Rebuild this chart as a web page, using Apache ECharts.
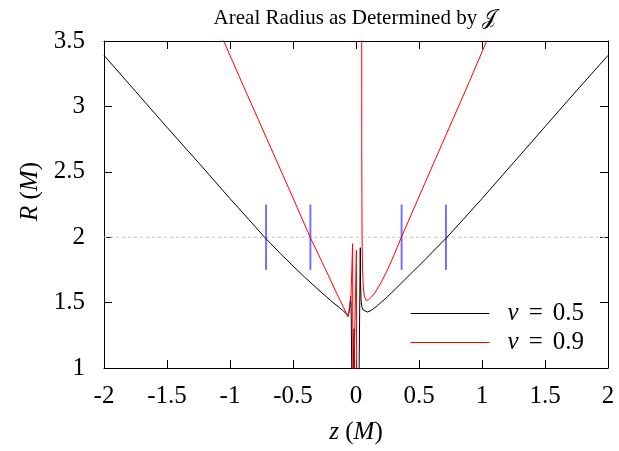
<!DOCTYPE html>
<html><head><meta charset="utf-8">
<script src="https://cdn.jsdelivr.net/npm/echarts@6/dist/echarts.min.js"></script>
<style>html,body{margin:0;padding:0;background:#fff}#c{width:619px;height:451px}</style>
</head><body><div id="c"></div>
<script>
// ---- data ----
const xTicks = [-2, -1.5, -1, -0.5, 0, 0.5, 1, 1.5, 2];
const yTicks = [1, 1.5, 2, 2.5, 3, 3.5];
const seriesNames = ['v = 0.5', 'v = 0.9'];

const blackZ = [-2.0, -1.75, -1.5, -1.25, -1.0, -0.85, -0.726, -0.6, -0.5, -0.41, -0.3, -0.2, -0.13, -0.1, -0.08, -0.071, -0.062, -0.054, -0.047, -0.043, -0.039, -0.03, -0.02, -0.015, -0.01, -0.005, 0.005, 0.021, 0.034, 0.036, 0.04, 0.046, 0.055, 0.07, 0.092, 0.12, 0.171, 0.25, 0.356, 0.45, 0.55, 0.63, 0.713, 0.85, 1.0, 1.25, 1.5, 1.75, 2.0];
const blackR = [3.39, 3.115, 2.84, 2.57, 2.295, 2.135, 2.0, 1.875, 1.78, 1.697, 1.6, 1.515, 1.46, 1.437, 1.415, 1.402, 1.405, 1.43, 1.48, 1.55, 1.5, 0.6, 0.6, 1.3, 0.6, 0.6, 0.6, 0.6, 1.92, 1.65, 1.52, 1.47, 1.445, 1.432, 1.428, 1.44, 1.477, 1.545, 1.645, 1.735, 1.83, 1.91, 1.99, 2.135, 2.295, 2.57, 2.845, 3.12, 3.39];

const redZ = [-1.2, -1.05, -0.9, -0.7, -0.5, -0.364, -0.25, -0.15, -0.1, -0.075, -0.062, -0.053, -0.047, -0.04, -0.033, -0.027, -0.024, -0.01, 0.003, 0.006, 0.02, 0.03, 0.0445, 0.046, 0.048, 0.052, 0.058, 0.066, 0.082, 0.1, 0.12, 0.15, 0.2, 0.25, 0.3, 0.356, 0.5, 0.7, 0.9, 1.037, 1.2];
const redR = [3.83, 3.5, 3.17, 2.735, 2.30, 2.0, 1.77, 1.565, 1.465, 1.415, 1.39, 1.377, 1.40, 1.55, 1.75, 1.95, 0.6, 0.6, 1.90, 0.6, 0.6, null, 4.5, 2.6, 2.0, 1.75, 1.62, 1.55, 1.516, 1.522, 1.54, 1.575, 1.655, 1.75, 1.86, 1.99, 2.31, 2.75, 3.19, 3.5, 3.86];

const guideZ = [-0.714, -0.362, 0.362, 0.714];
const guideLow = 1.75, guideHigh = 2.25;
const refLevel = 2;

// ---- chart ----
const FONT = 'Liberation Serif';
const pairs = (zs, rs) => zs.map((z, i) => [z, rs[i]]);
const chart = echarts.init(document.getElementById('c'), null, {renderer: 'canvas'});
const colors = ['#000000', '#ff0000'];

const series = [
  {
    name: 'ref', type: 'line', data: [[xTicks[0], refLevel], [xTicks[xTicks.length - 1], refLevel]],
    symbol: 'none', silent: true, z: 1,
    lineStyle: {color: '#c4c4c4', width: 1, type: [3, 3]}
  }
];
guideZ.forEach((z, i) => series.push({
  name: 'guide' + i, type: 'line', data: [[z, guideLow], [z, guideHigh]],
  symbol: 'none', silent: true, z: 2,
  lineStyle: {color: 'rgba(0,0,255,0.55)', width: 2}
}));
[[blackZ, blackR], [redZ, redR]].forEach(([zs, rs], k) => series.push({
  name: seriesNames[k], type: 'line', data: pairs(zs, rs), symbol: 'none',
  clip: true, connectNulls: false, z: 3 + k,
  itemStyle: {color: colors[k]},
  lineStyle: {color: colors[k], width: 1}
}));

const axisCommon = {
  type: 'value', splitLine: {show: false},
  axisLine: {show: true, onZero: false, lineStyle: {color: '#000', width: 1}},
  axisTick: {show: true, inside: true, length: 8, lineStyle: {color: '#000', width: 1}}
};
const tickStyle = {color: '#000', fontFamily: FONT, fontSize: 25};
const rich = {i: {fontStyle: 'italic', fontFamily: FONT, fontSize: 25, color: '#000'},
              n: {fontFamily: FONT, fontSize: 25, color: '#000'},
              e: {fontFamily: FONT, fontSize: 25, color: '#000', padding: [0, 10, 0, 10]}};

chart.setOption({
  animation: false,
  backgroundColor: '#fff',
  title: {
    text: 'Areal Radius as Determined by {j|𝒥}', left: 350, top: 3, textAlign: 'center',
    textStyle: {color: '#000', fontFamily: FONT, fontSize: 21, fontWeight: 'normal',
      rich: {j: {fontFamily: 'DejaVu Sans', fontSize: 21, color: '#000'}}}
  },
  grid: {left: 104, right: 11, top: 41, bottom: 83, containLabel: false, outerBoundsMode: 'none'},
  legend: {
    data: seriesNames.map((n, k) => ({name: n, itemStyle: {color: colors[k]}})),
    orient: 'vertical', right: 30, top: 296, icon: 'rect',
    itemWidth: 79, itemHeight: 1, itemGap: 4,
    formatter: n => n.replace(/^v = (.*)$/, '{i|v}{e|=}{n|$1}'),
    textStyle: {color: '#000', fontFamily: FONT, fontSize: 25, padding: [0, 0, 0, 13], rich: rich}
  },
  xAxis: [
    Object.assign({}, axisCommon, {
      position: 'bottom', min: xTicks[0], max: xTicks[xTicks.length - 1], interval: xTicks[1] - xTicks[0],
      axisLabel: Object.assign({margin: 16}, tickStyle),
      name: '{i|z}{n| (}{i|M}{n|)}', nameLocation: 'middle', nameGap: 52,
      nameTextStyle: {rich: rich}
    }),
    Object.assign({}, axisCommon, {
      position: 'top', min: xTicks[0], max: xTicks[xTicks.length - 1], interval: xTicks[1] - xTicks[0],
      axisLabel: {show: false}
    })
  ],
  yAxis: [
    Object.assign({}, axisCommon, {
      position: 'left', min: yTicks[0], max: yTicks[yTicks.length - 1], interval: yTicks[1] - yTicks[0],
      axisLabel: Object.assign({margin: 19}, tickStyle),
      name: '{i|R}{n| (}{i|M}{n|)}', nameLocation: 'middle', nameGap: 54, nameRotate: 90,
      nameTextStyle: {rich: rich, padding: [0, 0, 0, 26]}
    }),
    Object.assign({}, axisCommon, {
      position: 'right', min: yTicks[0], max: yTicks[yTicks.length - 1], interval: yTicks[1] - yTicks[0],
      axisLabel: {show: false}
    })
  ],
  series: series
});
</script></body></html>
